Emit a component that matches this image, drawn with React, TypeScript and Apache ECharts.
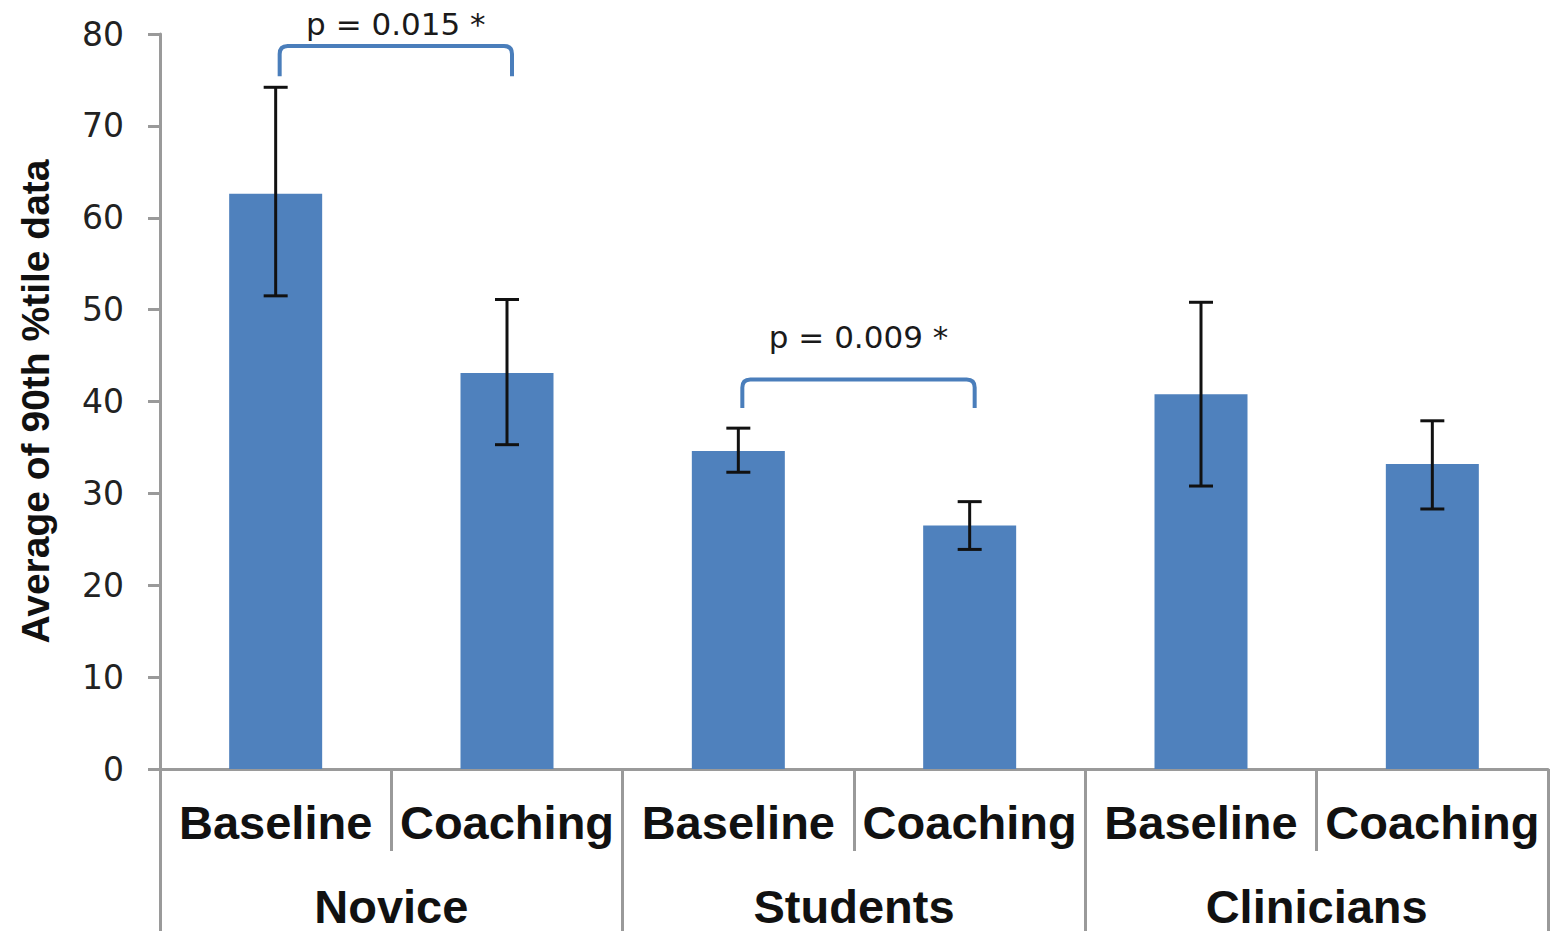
import React, { useEffect, useRef } from "react";
import * as echarts from "echarts";

const conditions = ["Baseline", "Coaching", "Baseline", "Coaching", "Baseline", "Coaching"];
const groups = ["Novice", "Students", "Clinicians"];
const means = [62.6, 43.1, 34.6, 26.5, 40.8, 33.2];
const errLow = [51.5, 35.3, 32.3, 23.9, 30.8, 28.3];
const errHigh = [74.2, 51.1, 37.1, 29.1, 50.8, 37.9];
const yTicks = [0, 10, 20, 30, 40, 50, 60, 70, 80];
// brackets: [startCategory, endCategory, topValue, endValue, labelValue]
const bracketStart = [0, 2];
const bracketEnd = [1, 3];
const bracketTop = [78.7, 42.4];
const bracketFoot = [75.4, 39.3];
const bracketLabelY = [81.1, 47.0];
const bracketLabels = ["p = 0.015 *", "p = 0.009 *"];

export default function App() {
  const ref = useRef<HTMLDivElement>(null);
  useEffect(() => {
    if (!ref.current) return;
    const chart = echarts.init(ref.current, null, { renderer: "svg" });
    const axisGray = "#9a9a9a";
    const option: any = {
      animation: false,
      grid: { left: 160, right: 2, top: 34, bottom: 162, containLabel: false },
      xAxis: [
        {
          type: "category",
          data: conditions,
          position: "bottom",
          axisLine: { show: true, lineStyle: { color: axisGray, width: 3 } },
          axisTick: { show: true, interval: 0, length: 82, lineStyle: { color: axisGray, width: 3 } },
          axisLabel: {
            interval: 0,
            margin: 30,
            color: "#111",
            fontFamily: "Liberation Sans",
            fontWeight: "bold",
            fontSize: 47,
          },
        },
        {
          type: "category",
          data: groups,
          position: "bottom",
          offset: 0,
          axisLine: { show: false },
          axisTick: { show: true, interval: 0, length: 162, lineStyle: { color: axisGray, width: 3 } },
          axisLabel: {
            interval: 0,
            margin: 117,
            lineHeight: 40,
            color: "#111",
            fontFamily: "Liberation Sans",
            fontWeight: "bold",
            fontSize: 47,
          },
        },
      ],
      yAxis: {
        type: "value",
        min: yTicks[0],
        max: yTicks[yTicks.length - 1],
        interval: 10,
        name: "Average of 90th %tile data",
        nameLocation: "middle",
        nameGap: 105,
        nameTextStyle: {
          color: "#111",
          fontFamily: "Liberation Sans",
          fontWeight: "bold",
          fontSize: 39,
        },
        axisLine: { show: true, lineStyle: { color: axisGray, width: 3 } },
        axisTick: { show: true, length: 12, lineStyle: { color: axisGray, width: 3 } },
        splitLine: { show: false },
        axisLabel: {
          margin: 36,
          color: "#222",
          fontFamily: "DejaVu Sans",
          fontSize: 33,
        },
      },
      series: [
        {
          type: "bar",
          data: means,
          barWidth: 93,
          itemStyle: { color: "#4f81bd" },
          xAxisIndex: 0,
          yAxisIndex: 0,
        },
        {
          type: "custom",
          xAxisIndex: 0,
          yAxisIndex: 0,
          data: conditions.map((_, i) => [i, errLow[i], errHigh[i]]),
          renderItem: (params: any, api: any) => {
            const lo = api.coord([api.value(0), api.value(1)]);
            const hi = api.coord([api.value(0), api.value(2)]);
            const x = lo[0];
            const hw = 12;
            const style = { stroke: "#111", lineWidth: 3 };
            return {
              type: "group",
              children: [
                { type: "line", shape: { x1: x, y1: lo[1], x2: x, y2: hi[1] }, style },
                { type: "line", shape: { x1: x - hw, y1: lo[1], x2: x + hw, y2: lo[1] }, style },
                { type: "line", shape: { x1: x - hw, y1: hi[1], x2: x + hw, y2: hi[1] }, style },
              ],
            };
          },
          z: 5,
        },
        {
          type: "custom",
          xAxisIndex: 0,
          yAxisIndex: 0,
          clip: false,
          data: bracketStart.map((s, i) => [s, bracketEnd[i], bracketTop[i], bracketFoot[i], bracketLabelY[i], i]),
          renderItem: (params: any, api: any) => {
            const a = api.coord([api.value(0), api.value(2)]);
            const b = api.coord([api.value(1), api.value(3)]);
            const t = api.coord([api.value(0), api.value(4)]);
            const xl = a[0] + 4;
            const xr = b[0] + 5;
            const yt = a[1];
            const yf = b[1];
            const r = 8;
            const d = `M${xl} ${yf} L${xl} ${yt + r} Q${xl} ${yt} ${xl + r} ${yt} L${xr - r} ${yt} Q${xr} ${yt} ${xr} ${yt + r} L${xr} ${yf}`;
            const idx = api.value(5);
            return {
              type: "group",
              children: [
                {
                  type: "path",
                  shape: { pathData: d },
                  style: { stroke: "#4a7ebb", lineWidth: 4, fill: "none" },
                },
                {
                  type: "text",
                  x: (xl + xr) / 2,
                  y: t[1],
                  style: {
                    text: bracketLabels[idx],
                    fill: "#1a1a1a",
                    font: "31px 'DejaVu Sans'",
                    align: "center",
                    verticalAlign: "middle",
                  },
                },
              ],
            };
          },
          z: 6,
        },
      ],
    };
    chart.setOption(option);
    return () => chart.dispose();
  }, []);
  return <div ref={ref} style={{ width: 1550, height: 931, position: "absolute", left: 0, top: 0 }} />;
}
